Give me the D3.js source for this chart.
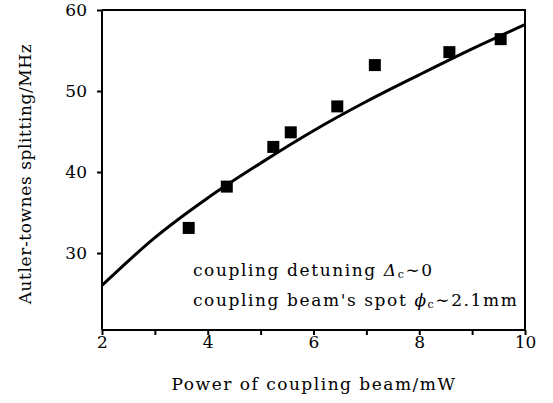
<!DOCTYPE html>
<html>
<head>
<meta charset="utf-8">
<script src="https://cdnjs.cloudflare.com/ajax/libs/d3/7.8.5/d3.min.js"></script>
<style>
  body { margin: 0; background: #fff; }
  text { font-family: "DejaVu Serif", serif; fill: #000; }
</style>
</head>
<body>
<div id="chart"></div>
<script>
(function() {
  // measured points (power in mW, splitting in MHz)
  var powers = [3.64, 4.36, 5.24, 5.57, 6.45, 7.16, 8.57, 9.54];
  var splittings = [33.1, 38.2, 43.1, 44.9, 48.1, 53.2, 54.8, 56.4];

  // fit curve
  var fitPowers = [2, 3, 4, 5, 6, 7, 8, 9, 10];
  var fitValues = [26.0, 31.9, 36.8, 41.1, 45.1, 48.7, 52.0, 55.2, 58.2];

  var xTicks = [2, 3, 4, 5, 6, 7, 8, 9, 10];
  var yTicks = [30, 40, 50, 60];

  var margin = { top: 10, left: 102, right: 28, bottom: 73 },
    width = 553 - margin.left - margin.right,
    height = 403 - margin.top - margin.bottom;

  var svg = d3.select("#chart")
    .append("svg")
    .attr("width", 553)
    .attr("height", 403)
    .append("g")
    .attr("transform", "translate(" + margin.left + "," + margin.top + ")");

  var xPositionScale = d3.scaleLinear().domain([2, 10]).range([0, width]);
  var yPositionScale = d3.scaleLinear().domain([20.5, 60]).range([height, 0]);

  // frame top + right
  svg.append("path")
    .attr("d", "M0,0H" + width + "V" + height)
    .attr("fill", "none")
    .attr("stroke", "black")
    .attr("stroke-width", 2);

  var xAxis = d3.axisBottom(xPositionScale)
    .tickValues(xTicks)
    .tickSize(5)
    .tickPadding(1)
    .tickFormat(function(d) { return d % 2 == 0 ? d : ''; });
  var xg = svg.append("g")
    .attr("transform", "translate(0," + height + ")")
    .call(xAxis);

  var yAxis = d3.axisLeft(yPositionScale)
    .tickValues(yTicks)
    .tickSize(5)
    .tickPadding(10);
  var yg = svg.append("g").call(yAxis);

  [xg, yg].forEach(function(g) {
    g.select(".domain").attr("stroke-width", 2);
    g.selectAll(".tick line").attr("stroke-width", 2);
    g.selectAll(".tick text")
      .attr("font-size", 17)
      .attr("font-family", "DejaVu Serif");
  });
  yg.select(".domain").attr("d", "M0," + height + "V0");
  xg.select(".domain").attr("d", "M0,0H" + width);

  var line = d3.line()
    .x(function(d) { return xPositionScale(d[0]); })
    .y(function(d) { return yPositionScale(d[1]); })
    .curve(d3.curveMonotoneX);

  svg.append("path")
    .datum(d3.zip(fitPowers, fitValues))
    .attr("d", line)
    .attr("fill", "none")
    .attr("stroke", "black")
    .attr("stroke-width", 3);

  var s = 12;
  svg.selectAll(".pt")
    .data(d3.zip(powers, splittings))
    .enter()
    .append("rect")
    .attr("class", "pt")
    .attr("x", function(d) { return xPositionScale(d[0]) - s / 2; })
    .attr("y", function(d) { return yPositionScale(d[1]) - s / 2; })
    .attr("width", s)
    .attr("height", s)
    .attr("fill", "black");

  // annotation
  var t1 = svg.append("text")
    .attr("x", 91).attr("y", 266)
    .attr("font-size", 17)
    .attr("letter-spacing", 1.6);
  t1.append("tspan").text("coupling detuning ");
  t1.append("tspan").attr("font-style", "italic").text("Δ");
  t1.append("tspan").attr("font-size", 11).attr("dy", 2).text("c");
  t1.append("tspan").attr("dy", -2).text("∼0");

  var t2 = svg.append("text")
    .attr("x", 91).attr("y", 296)
    .attr("font-size", 17)
    .attr("letter-spacing", 1.6);
  t2.append("tspan").text("coupling beam's spot ");
  t2.append("tspan").attr("font-style", "italic").text("ϕ");
  t2.append("tspan").attr("font-size", 11).attr("dy", 2).text("c");
  t2.append("tspan").attr("dy", -2).text("∼2.1mm");

  // axis titles
  svg.append("text")
    .attr("text-anchor", "middle")
    .attr("x", 314 - margin.left)
    .attr("y", 390 - margin.top)
    .attr("font-size", 17)
    .attr("letter-spacing", 1.5)
    .text("Power of coupling beam/mW");

  svg.append("text")
    .attr("text-anchor", "middle")
    .attr("transform", "translate(" + (31 - margin.left) + "," + (174 - margin.top) + ") rotate(-90)")
    .attr("font-size", 17)
    .attr("letter-spacing", 0.6)
    .text("Autler-townes splitting/MHz");
})();
</script>
</body>
</html>
